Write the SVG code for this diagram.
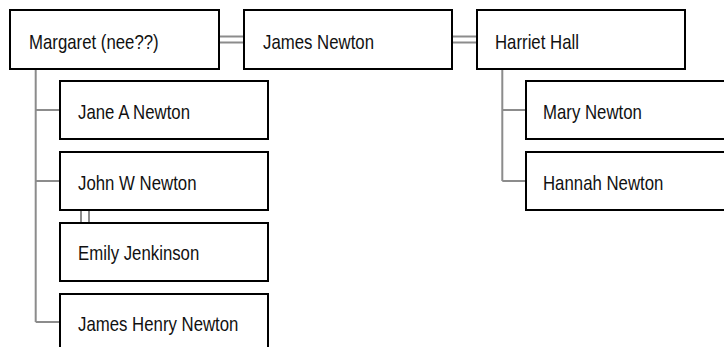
<svg xmlns="http://www.w3.org/2000/svg" width="724" height="347" viewBox="0 0 724 347">
<style>
.box{fill:#fff;stroke:#000;stroke-width:2}
.lbl{font-family:"Liberation Sans",Arial,sans-serif;font-size:20px;fill:#111}
.ln{fill:none;stroke:#8c8c8c;stroke-width:2}
</style>
<rect width="724" height="347" fill="#fff"/>
<g id="connectors">
<path class="ln" d="M219,36.5H244M219,42.5H244"/>
<path class="ln" d="M452,36.5H477M452,42.5H477"/>
<path class="ln" d="M35.7,69V322M35.7,110H60M35.7,181H60M35.7,322H60"/>
<path class="ln" d="M502.3,69V181M502.3,110H526M502.3,181H526"/>
<path class="ln" d="M81,210V223M89,210V223"/>
</g>
<g id="margaret"><rect class="box" x="10" y="10" width="209" height="59"/><text class="lbl" transform="translate(29,49) scale(0.84,1)">Margaret (nee??)</text></g>
<g id="james-newton"><rect class="box" x="244" y="10" width="208" height="59"/><text class="lbl" transform="translate(263,49) scale(0.84,1)">James Newton</text></g>
<g id="harriet-hall"><rect class="box" x="477" y="10" width="208" height="59"/><text class="lbl" transform="translate(495,49) scale(0.84,1)">Harriet Hall</text></g>
<g id="jane"><rect class="box" x="60" y="81" width="208" height="58"/><text class="lbl" transform="translate(78,119) scale(0.84,1)">Jane A Newton</text></g>
<g id="john"><rect class="box" x="60" y="152" width="208" height="58"/><text class="lbl" transform="translate(78,189.5) scale(0.84,1)">John W Newton</text></g>
<g id="emily"><rect class="box" x="60" y="223" width="208" height="58"/><text class="lbl" transform="translate(78,260) scale(0.84,1)">Emily Jenkinson</text></g>
<g id="james-henry"><rect class="box" x="60" y="294" width="208" height="58"/><text class="lbl" transform="translate(78,331) scale(0.84,1)">James Henry Newton</text></g>
<g id="mary"><rect class="box" x="526" y="81" width="208" height="58"/><text class="lbl" transform="translate(543,118.5) scale(0.84,1)">Mary Newton</text></g>
<g id="hannah"><rect class="box" x="526" y="152" width="208" height="58"/><text class="lbl" transform="translate(543,190) scale(0.84,1)">Hannah Newton</text></g>
</svg>
